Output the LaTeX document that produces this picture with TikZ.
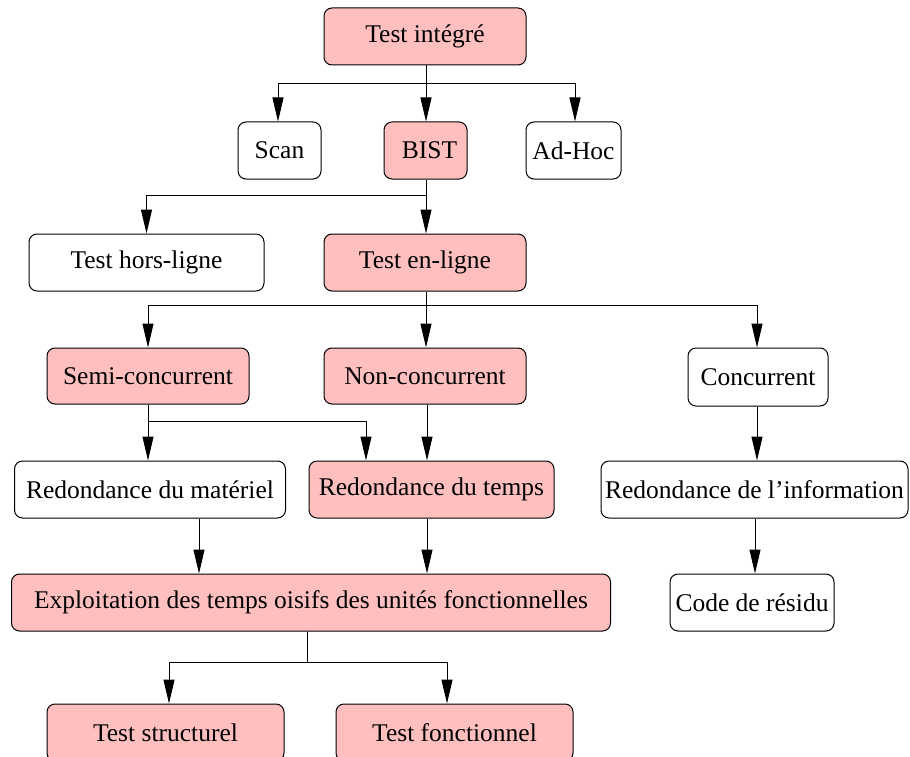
\documentclass[tikz,border=0pt]{standalone}
\usepackage{fontspec}
\setmainfont{Liberation Serif}
\usetikzlibrary{arrows.meta}
\definecolor{boxpink}{RGB}{255,191,191}
\begin{document}
\begin{tikzpicture}[x=1pt,y=-1pt,
  box/.style={draw=black, line width=1pt, rounded corners=8pt, inner sep=0pt,
    font=\fontsize{25.5}{30}\selectfont, fill=white},
  pinkbox/.style={box, fill=boxpink},
  arr/.style={line width=1pt, -{Triangle[length=24pt,width=11pt]}},
  ln/.style={line width=1pt}]
\useasboundingbox (0,0) rectangle (910,757);

% level 0
\node[pinkbox, minimum width=202pt, minimum height=57pt] (ti) at (425,36.5) {Test intégré};
% level 1
\node[box, minimum width=83pt, minimum height=57pt] (scan) at (279.5,150.5) {Scan};
\node[pinkbox, minimum width=83pt, minimum height=57pt] (bist) at (425.5,150.5) {\hspace*{8pt}BIST};
\node[box, minimum width=95pt, minimum height=57pt] (adhoc) at (573.5,150.5) {Ad-Hoc};
% level 2
\node[box, minimum width=235pt, minimum height=57pt] (hors) at (146.5,262.5) {Test hors-ligne};
\node[pinkbox, minimum width=202pt, minimum height=57pt] (enligne) at (425,262.5) {Test en-ligne};
% level 3
\node[pinkbox, minimum width=202pt, minimum height=56pt] (semi) at (148,376) {Semi-concurrent};
\node[pinkbox, minimum width=202pt, minimum height=56pt] (non) at (425,376) {Non-concurrent};
\node[box, minimum width=140pt, minimum height=58pt] (conc) at (758,377) {Concurrent};
% level 4
\node[box, minimum width=271pt, minimum height=57pt] (rmat) at (150,489.5) {Redondance du matériel};
\node[pinkbox, minimum width=245pt, minimum height=57pt] (rtemps) at (431.5,489.5) {Redondance du temps};
\node[box, minimum width=307pt, minimum height=57pt] (rinfo) at (754.5,489.5) {Redondance de l’information};
% level 5
\node[pinkbox, minimum width=599pt, minimum height=57pt] (expl) at (311,602.5) {Exploitation des temps oisifs des unités fonctionnelles};
\node[box, minimum width=164pt, minimum height=57pt] (code) at (752,602.5) {Code de résidu};
% level 6
\node[pinkbox, minimum width=237pt, minimum height=57pt] (tstruct) at (165.5,732.5) {Test structurel};
\node[pinkbox, minimum width=237pt, minimum height=57pt] (tfonct) at (454.5,732.5) {Test fonctionnel};

% branch points
\coordinate (b1) at (426,84);
\coordinate (b2) at (426,195);
\coordinate (b3) at (426,305);
\coordinate (b4) at (148,421);
\coordinate (b5) at (307.6,662);

% Test intégré -> Scan, BIST, Ad-Hoc
\draw[ln] (ti.south -| b1) -- (b1);
\draw[arr] (b1) -| ([xshift=-1.5pt]scan.north);
\draw[arr] (b1) -- (b1 |- bist.north);
\draw[arr] (b1) -| ([xshift=1.5pt]adhoc.north);

% BIST -> hors-ligne, en-ligne
\draw[ln] (bist.south -| b2) -- (b2);
\draw[arr] (b2) -| (hors.north);
\draw[arr] (b2) -- (b2 |- enligne.north);

% en-ligne -> semi, non, concurrent
\draw[ln] (enligne.south -| b3) -- (b3);
\draw[arr] (b3) -| (semi.north);
\draw[arr] (b3) -- (b3 |- non.north);
\draw[arr] (b3) -| ([xshift=-1pt]conc.north);

% semi-concurrent -> both redundancies
\draw[ln] (semi.south) -- (b4);
\draw[arr] (b4) -- (b4 |- rmat.north);
\draw[arr] (b4) -| ([xshift=-65.5pt]rtemps.north);
% non-concurrent -> time redundancy
\draw[arr] ([xshift=2pt]non.south) -- ([xshift=2pt]non.south |- rtemps.north);
% concurrent -> information redundancy -> residue code
\draw[arr] ([xshift=-1pt]conc.south) -- ([xshift=-1pt]conc.south |- rinfo.north);
\draw[arr] ([xshift=0.5pt]rinfo.south) -- ([xshift=0.5pt]rinfo.south |- code.north);

% redundancies -> idle-time exploitation
\draw[arr] ([xshift=49pt]rmat.south) -- ([xshift=49pt]rmat.south |- expl.north);
\draw[arr] ([xshift=-4.5pt]rtemps.south) -- ([xshift=-4.5pt]rtemps.south |- expl.north);

% exploitation -> structural / functional test
\draw[ln] (expl.south -| b5) -- (b5);
\draw[arr] (b5) -| ([xshift=3.5pt]tstruct.north);
\draw[arr] (b5) -| ([xshift=-7.5pt]tfonct.north);
\end{tikzpicture}
\end{document}
